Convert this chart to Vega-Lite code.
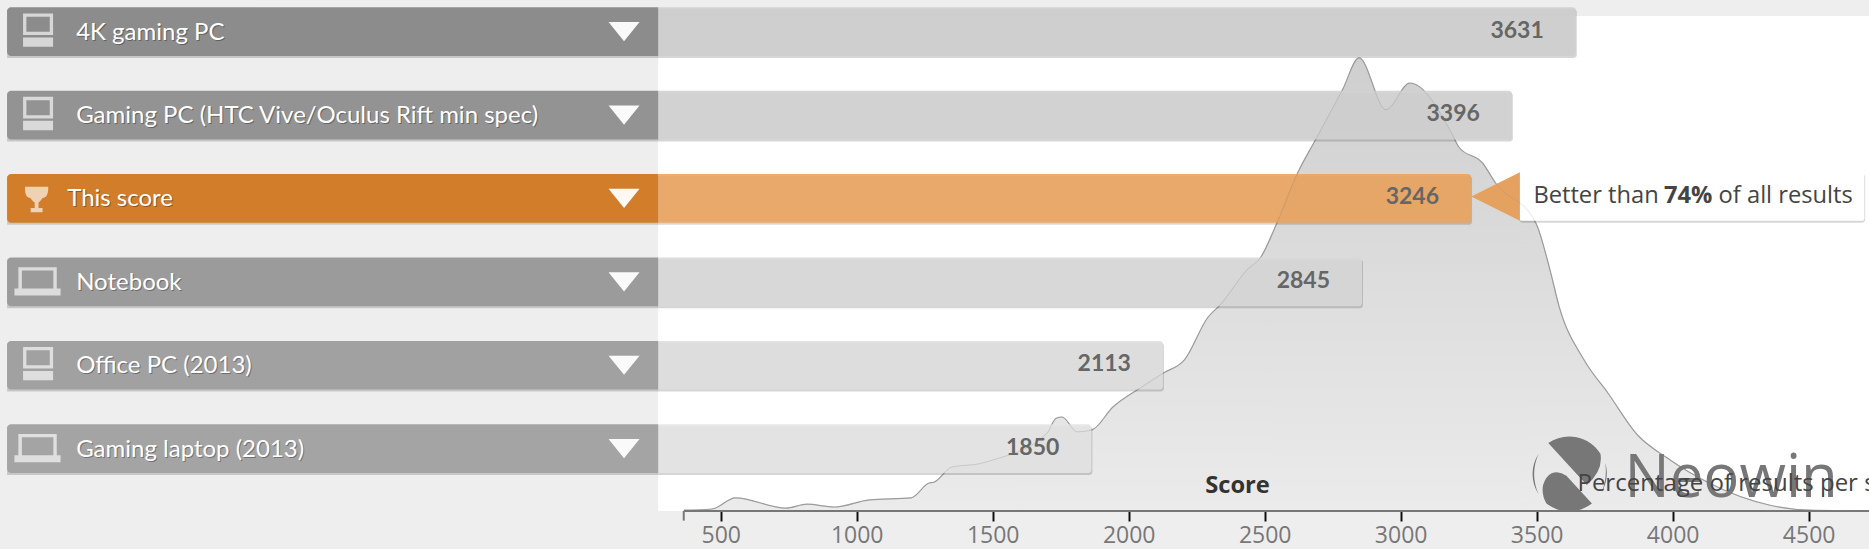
{
"$schema":"https://vega.github.io/schema/vega-lite/v6.json",
"width":1869,"height":511,"padding":{"left":0,"top":0,"right":0,"bottom":38},"autosize":{"type":"none"},"background":"#eeeeee",
"config":{"view":{"stroke":null}},
"datasets":{
"bars":[
{"name":"4K gaming PC","score":3631,"icon":"desktop"},
{"name":"Gaming PC (HTC Vive/Oculus Rift min spec)","score":3396,"icon":"desktop"},
{"name":"This score","score":3246,"icon":"trophy"},
{"name":"Notebook","score":2845,"icon":"laptop"},
{"name":"Office PC (2013)","score":2113,"icon":"desktop"},
{"name":"Gaming laptop (2013)","score":1850,"icon":"laptop"}],
"density":[
{"score":365,"pct":0.02},{"score":468,"pct":0.05},{"score":554,"pct":0.33},{"score":740,"pct":0.07},{"score":817,"pct":0.17},{"score":917,"pct":0.1},{"score":1047,"pct":0.28},{"score":1200,"pct":0.33},{"score":1266,"pct":0.7},{"score":1284,"pct":0.72},{"score":1350,"pct":1.1},{"score":1449,"pct":1.18},{"score":1503,"pct":1.28},{"score":1700,"pct":1.95},{"score":1733,"pct":2.32},{"score":1755,"pct":2.35},{"score":1810,"pct":1.98},{"score":1865,"pct":2.03},{"score":1942,"pct":2.6},{"score":2041,"pct":3.07},{"score":2128,"pct":3.45},{"score":2205,"pct":3.78},{"score":2292,"pct":4.85},{"score":2336,"pct":5.15},{"score":2435,"pct":6.03},{"score":2486,"pct":6.35},{"score":2545,"pct":7.2},{"score":2621,"pct":8.45},{"score":2687,"pct":9.28},{"score":2786,"pct":10.53},{"score":2847,"pct":11.33},{"score":2946,"pct":10.03},{"score":3034,"pct":10.7},{"score":3187,"pct":9.45},{"score":3214,"pct":9.1},{"score":3301,"pct":8.7},{"score":3349,"pct":8.2},{"score":3497,"pct":7.2},{"score":3549,"pct":6.03},{"score":3582,"pct":5.13},{"score":3674,"pct":3.78},{"score":3762,"pct":2.95},{"score":3871,"pct":1.9},{"score":3979,"pct":1.33},{"score":4134,"pct":0.7},{"score":4355,"pct":0.15},{"score":4505,"pct":0.02},{"score":4722,"pct":0}]
},
"resolve":{"scale":{"y":"independent"}},
"layer":[
{"data":{"name":"density"},
 "layer":[
 {"data":{"values":[{"label":"plot"}]},"mark":{"type":"rect","fill":"#ffffff"},
  "encoding":{"x":{"datum":270,"type":"quantitative","scale":{"domain":[-2150,4722],"nice":false,"zero":false}},
   "x2":{"datum":4722},
   "y":{"datum":0,"type":"quantitative","scale":{"domain":[0,12.775],"nice":false,"zero":false},"axis":null},"y2":{"datum":12.375}}},
 {"mark":{"type":"area","interpolate":"monotone","line":false,"fill":{"gradient":"linear","x1":0,"y1":0,"x2":0,"y2":1,"stops":[{"offset":0,"color":"#cfcfcf"},{"offset":1,"color":"#ebebeb"}]}},
  "encoding":{"x":{"field":"score","type":"quantitative","axis":{"values":[500,1000,1500,2000,2500,3000,3500,4000,4500],"domain":false,"grid":false,"title":null,"format":"d","labelFont":"Open Sans","labelFontSize":23,"labelColor":"#777777","tickColor":"#111111","tickWidth":2,"tickSize":10,"labelPadding":3,"labelOverlap":false,"labelFlush":false}},"y":{"field":"pct","type":"quantitative"}}},
 {"mark":{"type":"line","interpolate":"monotone","stroke":"#a0a0a0","strokeWidth":1.2},
  "encoding":{"x":{"field":"score","type":"quantitative"},"y":{"field":"pct","type":"quantitative"}}},
 {"data":{"values":[{"label":"axis"}]},"mark":{"type":"rule","stroke":"#777777","strokeWidth":2},
  "encoding":{"x":{"datum":364,"type":"quantitative"},"x2":{"datum":4722},"y":{"datum":0,"type":"quantitative"}}},
 {"data":{"values":[{"label":"axis start"}]},"mark":{"type":"rule","stroke":"#777777","strokeWidth":2},
  "encoding":{"x":{"datum":364,"type":"quantitative"},"y":{"datum":0,"type":"quantitative"},"y2":{"datum":-0.24}}}
 ]},
{"data":{"name":"bars"},
 "encoding":{"y":{"field":"name","type":"nominal","axis":null,"scale":{"type":"band","domain":["4K gaming PC","Gaming PC (HTC Vive/Oculus Rift min spec)","This score","Notebook","Office PC (2013)","Gaming laptop (2013)"],"range":[7.3,473],"paddingInner":0.416,"paddingOuter":0}}},
 "layer":[
 {"mark":{"type":"rect","fill":"#000000","opacity":0.16,"yOffset":2,"xOffset":4.5,"x2Offset":0,"cornerRadiusTopRight":3,"cornerRadiusBottomRight":3},
  "encoding":{"x":{"field":"score","type":"quantitative"},"x2":{"datum":-2124}}},
 {"transform":[{"filter":"datum.name==='This score'"}],"mark":{"type":"rect","fill":"#000000","opacity":0.16,"cornerRadius":3},
  "encoding":{"x":{"datum":3437,"type":"quantitative"},"x2":{"datum":4708}}},
 {"transform":[{"filter":"datum.name==='This score'"}],"mark":{"type":"rect","fill":"#ffffff","yOffset":-2,"cornerRadius":2},
  "encoding":{"x":{"datum":3437,"type":"quantitative"},"x2":{"datum":4705}}},
 {"mark":{"type":"rect","opacity":0.9,"xOffset":3.5,"x2Offset":0,"cornerRadiusTopRight":3,"cornerRadiusBottomRight":3},
  "encoding":{"x":{"field":"score","type":"quantitative"},"x2":{"datum":270},
   "fill":{"field":"name","type":"nominal","legend":null,"scale":{"domain":["4K gaming PC","Gaming PC (HTC Vive/Oculus Rift min spec)","This score","Notebook","Office PC (2013)","Gaming laptop (2013)"],"range":["#cecece","#d1d1d1","#eaa45f","#d8d8d8","#dedede","#e4e4e4"]}}}},
 {"mark":{"type":"rect","cornerRadiusTopLeft":4,"cornerRadiusBottomLeft":4},
  "encoding":{"x":{"datum":-2124,"type":"quantitative"},"x2":{"datum":270},
   "color":{"field":"name","type":"nominal","legend":null,"scale":{"domain":["4K gaming PC","Gaming PC (HTC Vive/Oculus Rift min spec)","This score","Notebook","Office PC (2013)","Gaming laptop (2013)"],"range":["#8c8c8c","#939393","#d27d2a","#9b9b9b","#a1a1a1","#a4a4a4"]}}}},
 {"transform":[{"filter":"datum.name==='This score'"}],"mark":{"type":"point","filled":true,"opacity":1,"fill":"#e5a15f","size":2362,"yOffset":-2,"shape":"M -1 0 L 1 -1 L 1 1 Z"},
  "encoding":{"x":{"datum":3349,"type":"quantitative"}}},
 {"mark":{"type":"point","filled":true,"opacity":0.65,"fill":"#ffffff","size":2025,"yOffset":-1.6},
  "encoding":{"x":{"datum":-2010,"type":"quantitative"},
   "shape":{"field":"icon","type":"nominal","legend":null,"scale":{"domain":["desktop","laptop","trophy"],"range":[
     "M -0.667 -0.74 H 0.667 V 0.22 H -0.667 Z M -0.52 -0.59 V 0.075 H 0.52 V -0.59 Z M -0.667 0.326 H 0.667 V 0.742 H -0.667 Z",
     "M -0.876 -0.578 H 0.83 V 0.369 H -0.876 Z M -0.72 -0.43 V 0.369 H 0.68 V -0.43 Z M -1.05 0.369 H 1 V 0.68 H -1.05 Z",
     "M -0.58 -0.45 H 0.45 C 0.47 -0.1 0.35 0.05 0.2 0.05 C 0.12 0.18 0.06 0.22 0.02 0.25 V 0.5 H 0.2 V 0.68 H -0.33 V 0.5 H -0.15 V 0.25 C -0.2 0.22 -0.26 0.18 -0.34 0.05 C -0.5 0.05 -0.6 -0.1 -0.58 -0.45 Z"]}}}},
 {"mark":{"type":"point","filled":true,"opacity":0.95,"fill":"#ffffff","size":961,"shape":"M -1 -0.62 L 1 -0.62 L 0 0.62 Z"},
  "encoding":{"x":{"datum":144.5,"type":"quantitative"}}},
 {"transform":[{"filter":"datum.name!=='This score'"}],"mark":{"type":"text","align":"left","baseline":"middle","font":"Lato","fontSize":24,"fill":"#000000","opacity":0.3,"dx":1,"dy":2},
  "encoding":{"x":{"datum":-1870,"type":"quantitative"},"text":{"field":"name"}}},
 {"transform":[{"filter":"datum.name!=='This score'"}],"mark":{"type":"text","align":"left","baseline":"middle","font":"Lato","fontSize":24,"fill":"#ffffff","dy":1},
  "encoding":{"x":{"datum":-1870,"type":"quantitative"},"text":{"field":"name"}}},
 {"transform":[{"filter":"datum.name==='This score'"}],"mark":{"type":"text","align":"left","baseline":"middle","font":"Lato","fontSize":24,"fill":"#000000","opacity":0.3,"dx":1,"dy":2},
  "encoding":{"x":{"datum":-1903,"type":"quantitative"},"text":{"field":"name"}}},
 {"transform":[{"filter":"datum.name==='This score'"}],"mark":{"type":"text","align":"left","baseline":"middle","font":"Lato","fontSize":24,"fill":"#ffffff","dy":1},
  "encoding":{"x":{"datum":-1903,"type":"quantitative"},"text":{"field":"name"}}},
 {"mark":{"type":"text","align":"right","baseline":"middle","font":"Lato","fontWeight":"bold","fontSize":23,"fill":"#666666","dx":-28.5,"dy":-1},
  "encoding":{"x":{"field":"score","type":"quantitative"},"text":{"field":"score","type":"quantitative","format":"d"}}},
 {"transform":[{"filter":"datum.name==='This score'"}],"mark":{"type":"text","align":"left","baseline":"middle","font":"Open Sans","fontSize":23.7,"fill":"#444444","dy":-2},
  "encoding":{"x":{"datum":3488,"type":"quantitative"},"text":{"value":"Better than"}}},
 {"transform":[{"filter":"datum.name==='This score'"}],"mark":{"type":"text","align":"left","baseline":"middle","font":"Open Sans","fontWeight":"bold","fontSize":23.7,"fill":"#444444","dy":-2},
  "encoding":{"x":{"datum":3968,"type":"quantitative"},"text":{"value":"74%"}}},
 {"transform":[{"filter":"datum.name==='This score'"}],"mark":{"type":"text","align":"left","baseline":"middle","font":"Open Sans","fontSize":23.7,"fill":"#444444","dy":-2},
  "encoding":{"x":{"datum":4169,"type":"quantitative"},"text":{"value":"of all results"}}}
 ]},
{"data":{"name":"density"},
 "layer":[
 {"mark":{"type":"line","interpolate":"monotone","stroke":"#888888","strokeWidth":1,"opacity":0.22},
  "encoding":{"x":{"field":"score","type":"quantitative"},"y":{"field":"pct","type":"quantitative","axis":null,"scale":{"domain":[0,12.775],"nice":false,"zero":false}}}},
 {"data":{"values":[{"label":"Neowin"}]},"mark":{"type":"point","filled":true,"fill":"#777777","opacity":1,"size":5476,"shape":"M -0.59 -0.84 A 1 1 0 0 1 0.82 -0.55 Q 0.9 -0.1 0.45 0.3 Z M -0.5 -0.02 Q -0.3 -0.1 -0.1 0.05 L 0.59 0.8 A 1 1 0 0 1 -0.64 0.8 Q -0.78 0.55 -0.73 0.3 Q -0.65 0.05 -0.5 -0.02 Z M -0.85 -0.55 A 1 1 0 0 0 -0.85 0.55 A 1.3 1.3 0 0 1 -0.85 -0.55 Z M 0.95 -0.3 A 1 1 0 0 1 0.85 0.5 A 1.5 1.5 0 0 0 0.95 -0.3 Z"},
  "encoding":{"x":{"datum":3623,"type":"quantitative"},"y":{"datum":0.925,"type":"quantitative"}}},
 {"data":{"values":[{"label":"Neowin"}]},"mark":{"type":"text","align":"left","baseline":"alphabetic","font":"Open Sans","fontSize":60,"fill":"#777777"},
  "encoding":{"x":{"datum":3823,"type":"quantitative"},"y":{"datum":0.35,"type":"quantitative"},"text":{"field":"label"}}},
 {"data":{"values":[{"label":"Percentage of results per score"}]},"mark":{"type":"text","align":"left","baseline":"alphabetic","font":"Open Sans","fontSize":24,"fill":"#444444"},
  "encoding":{"x":{"datum":3650,"type":"quantitative"},"y":{"datum":0.51,"type":"quantitative"},"text":{"field":"label"}}},
 {"data":{"values":[{"label":"Score"}]},"mark":{"type":"text","align":"center","baseline":"middle","font":"Open Sans","fontWeight":"bold","fontSize":23.7,"fill":"#333333"},
  "encoding":{"x":{"datum":2400,"type":"quantitative"},"y":{"datum":0.625,"type":"quantitative"},"text":{"field":"label"}}}
 ]}
]
}
